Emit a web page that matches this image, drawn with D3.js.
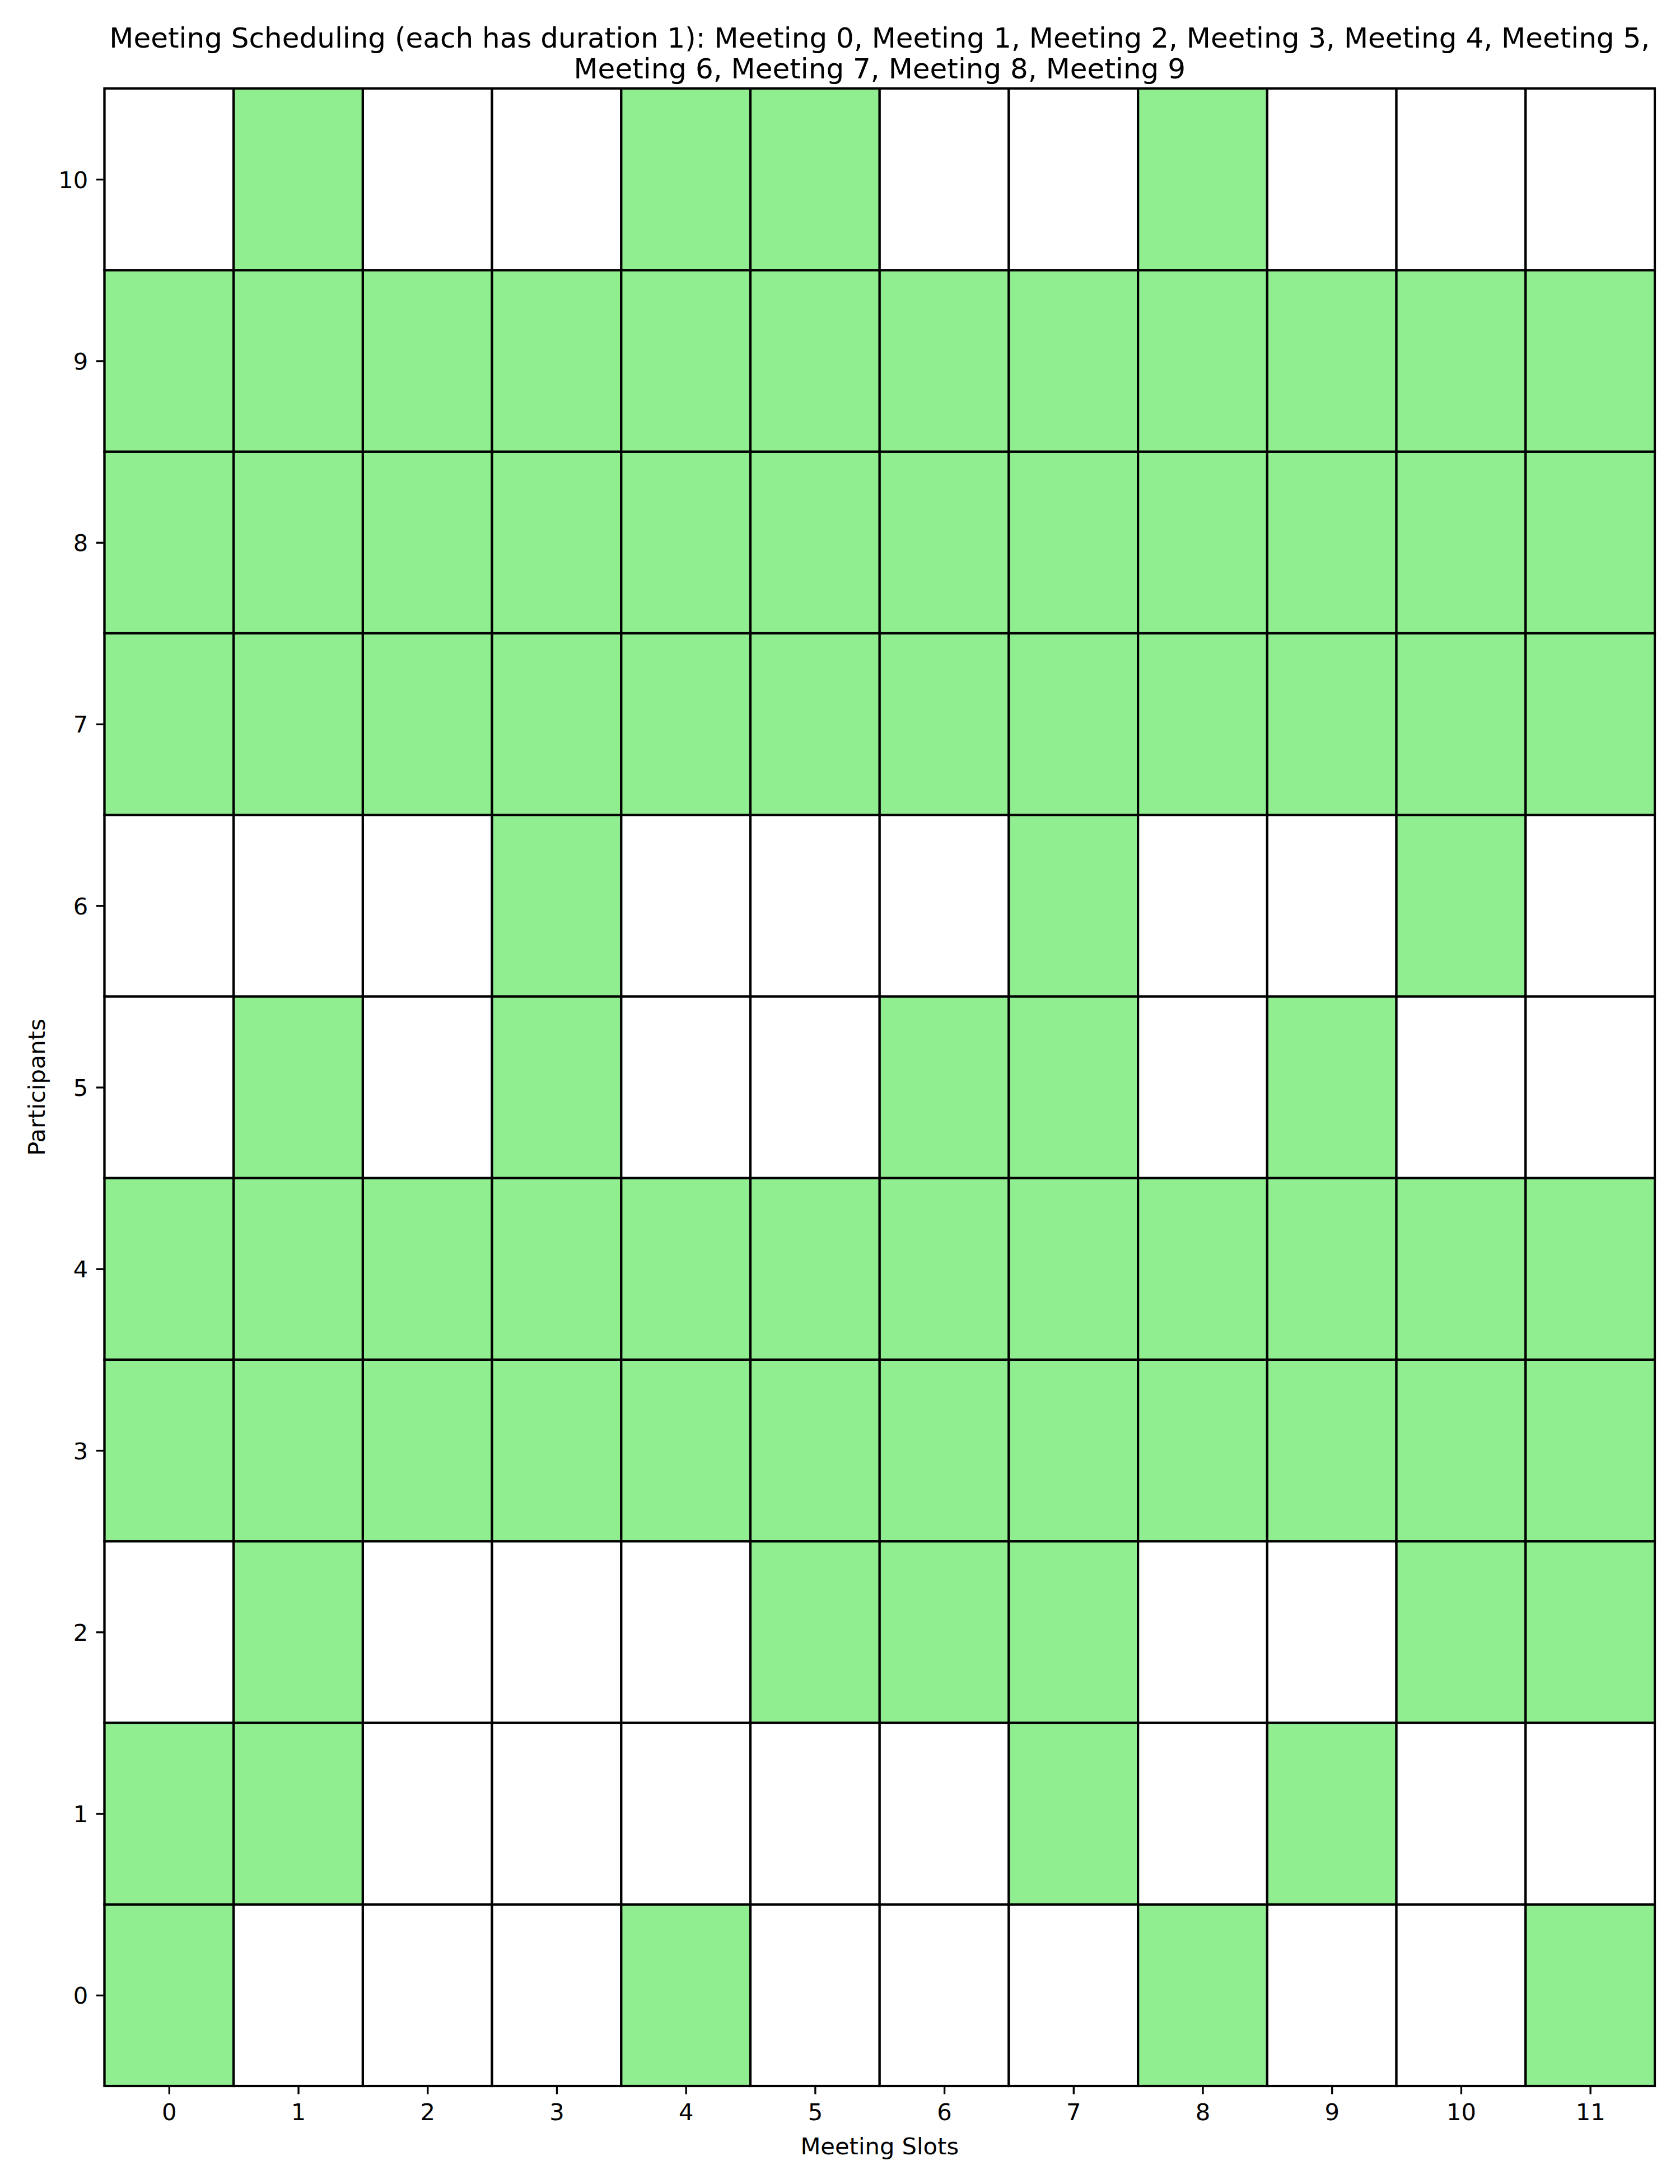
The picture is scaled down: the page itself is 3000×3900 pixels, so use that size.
<!DOCTYPE html>
<html>
<head>
<meta charset="utf-8">
<script src="https://cdn.jsdelivr.net/npm/d3@7"></script>
<style>
  html, body { margin: 0; padding: 0; background: #fff; }
  svg { display: block; }
  text { font-family: "DejaVu Sans", sans-serif; fill: #000; }
</style>
</head>
<body>
<script>
// ---- data ----
const slots = [0, 1, 2, 3, 4, 5, 6, 7, 8, 9, 10, 11];
const participants = [0, 1, 2, 3, 4, 5, 6, 7, 8, 9, 10];
// available slots per participant (index = participant)
const availability = [
  [0, 4, 8, 11],                          // participant 0
  [0, 1, 7, 9],                           // participant 1
  [1, 5, 6, 7, 10, 11],                   // participant 2
  [0, 1, 2, 3, 4, 5, 6, 7, 8, 9, 10, 11], // participant 3
  [0, 1, 2, 3, 4, 5, 6, 7, 8, 9, 10, 11], // participant 4
  [1, 3, 6, 7, 9],                        // participant 5
  [3, 7, 10],                             // participant 6
  [0, 1, 2, 3, 4, 5, 6, 7, 8, 9, 10, 11], // participant 7
  [0, 1, 2, 3, 4, 5, 6, 7, 8, 9, 10, 11], // participant 8
  [0, 1, 2, 3, 4, 5, 6, 7, 8, 9, 10, 11], // participant 9
  [1, 4, 5, 8]                            // participant 10
];
const meetings = ["Meeting 0", "Meeting 1", "Meeting 2", "Meeting 3", "Meeting 4",
                  "Meeting 5", "Meeting 6", "Meeting 7", "Meeting 8", "Meeting 9"];
const titleLines = [
  "Meeting Scheduling (each has duration 1): " + meetings.slice(0, 6).join(", ") + ",",
  meetings.slice(6).join(", ")
];
const xLabel = "Meeting Slots";
const yLabel = "Participants";

// ---- layout ----
const W = 3000, H = 3900;
const mLeft = 186.5, mRight = 2955, mTop = 158, mBottom = 3725;
const tickFont = 41.67, titleFont = 50;

const svg = d3.select("body").append("svg")
  .attr("width", W).attr("height", H);
svg.append("rect").attr("width", W).attr("height", H).attr("fill", "#fff");

const x = d3.scaleLinear().domain([-0.5, slots.length - 0.5]).range([mLeft, mRight]);
const y = d3.scaleLinear().domain([-0.5, participants.length - 0.5]).range([mBottom, mTop]);

// cells
const cells = [];
participants.forEach(p => {
  slots.forEach(s => {
    cells.push({ p, s, avail: availability[p].includes(s) });
  });
});
svg.append("g").selectAll("rect").data(cells).join("rect")
  .attr("x", d => x(d.s - 0.5))
  .attr("y", d => y(d.p + 0.5))
  .attr("width", d => x(d.s + 0.5) - x(d.s - 0.5))
  .attr("height", d => y(d.p - 0.5) - y(d.p + 0.5))
  .attr("fill", d => d.avail ? "#90ee90" : "#ffffff")
  .attr("stroke", "#000")
  .attr("stroke-width", 4.17);

// frame (spines)
svg.append("rect")
  .attr("x", mLeft).attr("y", mTop)
  .attr("width", mRight - mLeft).attr("height", mBottom - mTop)
  .attr("fill", "none").attr("stroke", "#000").attr("stroke-width", 3.33);

// axes
const xAxis = d3.axisBottom(x).tickValues(slots).tickFormat(d3.format("d"))
  .tickSizeInner(14.6).tickSizeOuter(0).tickPadding(14.6);
const gx = svg.append("g").attr("transform", `translate(0,${mBottom})`).call(xAxis);
const yAxis = d3.axisLeft(y).tickValues(participants).tickFormat(d3.format("d"))
  .tickSizeInner(14.6).tickSizeOuter(0).tickPadding(14.6);
const gy = svg.append("g").attr("transform", `translate(${mLeft},0)`).call(yAxis);

[gx, gy].forEach(g => {
  g.select(".domain").remove();
  g.selectAll(".tick line").attr("stroke", "#000").attr("stroke-width", 3.33);
  g.selectAll(".tick text")
    .attr("font-family", "DejaVu Sans, sans-serif")
    .attr("font-size", tickFont).attr("fill", "#000");
});
gx.selectAll(".tick text").attr("dy", "0.76em");
gy.selectAll(".tick text").attr("dy", "0.36em");

// axis labels
svg.append("text")
  .attr("x", (mLeft + mRight) / 2).attr("y", 3847)
  .attr("text-anchor", "middle").attr("font-size", tickFont)
  .text(xLabel);
svg.append("text")
  .attr("transform", `translate(80,${(mTop + mBottom) / 2}) rotate(-90)`)
  .attr("text-anchor", "middle").attr("font-size", tickFont)
  .text(yLabel);

// title
svg.append("g").selectAll("text").data(titleLines).join("text")
  .attr("x", (mLeft + mRight) / 2)
  .attr("y", (d, i) => 85 + i * 55)
  .attr("text-anchor", "middle")
  .attr("font-size", titleFont)
  .text(d => d);
</script>
</body>
</html>
